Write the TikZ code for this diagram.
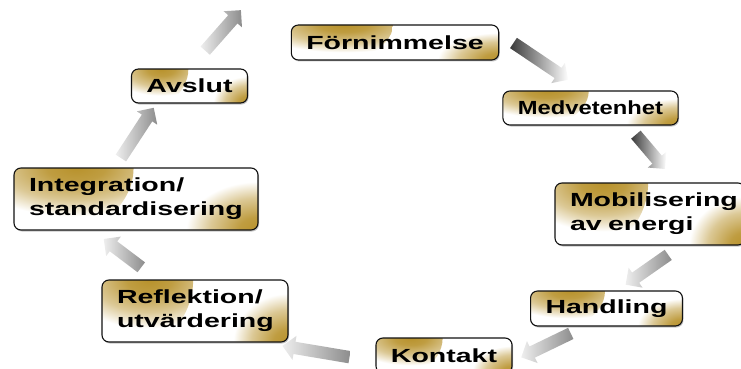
\documentclass[tikz,border=0pt]{standalone}
\usepackage{fontspec}
\newfontfamily\stagefont[FakeStretch=1.5]{Liberation Sans}
\newfontfamily\narrowstagefont[FakeStretch=1.25]{Liberation Sans}
\usepackage{tikz}
\usetikzlibrary{positioning,shapes.arrows,calc,shadows}
\definecolor{ink}     {HTML}{111111}
\definecolor{gold}    {HTML}{B8922C}
\definecolor{darkgrey}{HTML}{3A3A3A}
\definecolor{midgrey} {HTML}{8C8C8C}
\definecolor{palegrey}{HTML}{EEEEEE}
\pgfdeclareradialshading{cornerglow}{\pgfpoint{0bp}{0bp}}%
  {color(0bp)=(gold); color(4bp)=(gold!90!white); color(10bp)=(gold!50!white); color(15bp)=(white); color(50bp)=(white)}
\tikzset{
  % --- nodes
  stage/.style   = {rounded corners=7pt, draw=ink, line width=1.1pt, fill=white,
                    drop shadow={shadow xshift=1pt, shadow yshift=-1.5pt, fill=black!45},
                    inner xsep=15pt, inner ysep=3pt,
                    font=\stagefont\bfseries\fontsize{19}{24}\selectfont,
                    path picture={
                      \shade[shading=cornerglow] let \p1=($(path picture bounding box.north east)-(path picture bounding box.south west)$) in
                        (path picture bounding box.north west) ellipse [x radius=.49*\x1, y radius=1.3*\y1];
                      \shade[shading=cornerglow] let \p1=($(path picture bounding box.north east)-(path picture bounding box.south west)$) in
                        (path picture bounding box.south east) ellipse [x radius=.49*\x1, y radius=1.3*\y1];
                    }},
  twoline/.style = {stage, align=left},
  % --- connectors
  flow/.style      = {single arrow, draw=none, inner xsep=0pt, inner ysep=6pt,
                      minimum width=24pt, single arrow head extend=6pt,
                      single arrow head indent=0pt,
                      sloped, allow upside down, anchor=center},
  darkflow/.style  = {flow, left color=darkgrey, right color=white},
  lightflow/.style = {flow, left color=palegrey, right color=midgrey},
}
\begin{document}
\begin{tikzpicture}[x=1pt,y=-1pt]
  \useasboundingbox (0,0) rectangle (741,369);

  \node[stage, minimum width=204pt, minimum height=35pt] (fo) at (395,42.5) {Förnimmelse};
  \node[stage, minimum width=173pt, minimum height=34pt] (me) at (590.5,108) {\narrowstagefont Medvetenhet};
  \node[twoline, text width=160pt, minimum height=62pt] (mo) at (650,214) {Mobilisering\\av energi};
  \node[stage, minimum width=147pt, minimum height=35pt] (ha) at (606.5,308.5) {Handling};
  \node[stage, minimum width=132pt, minimum height=35pt] (ko) at (444,355.5) {Kontakt};
  \node[twoline, text width=156pt, minimum height=62pt] (re) at (195,311) {Reflektion/\\utvärdering};
  \node[twoline, text width=214pt, minimum height=62pt] (in) at (136,199) {Integration/\\standardisering};
  \node[stage, minimum width=113pt, minimum height=34pt] (av) at (189.5,86) {Avslut};
  \coordinate (top) at (252.5,-3);

  \foreach \a/\b/\p/\len/\s in {av.north/top/.5/54/lightflow,
                                fo.5/me.110/.46/66/darkflow,
                                me.-25/mo.50/.42/45/darkflow,
                                mo.-45/ha.59/.5/52/lightflow,
                                ha.-140/ko.-5/.5/55/lightflow,
                                ko.-175/re.-25/.5/68/lightflow,
                                re.140/in.-144/.5/47/lightflow,
                                in.124/av.-152/.5/60/lightflow}
    \path (\a) -- node[\s, pos=\p, minimum height=\len pt] {} (\b);
\end{tikzpicture}
\end{document}
